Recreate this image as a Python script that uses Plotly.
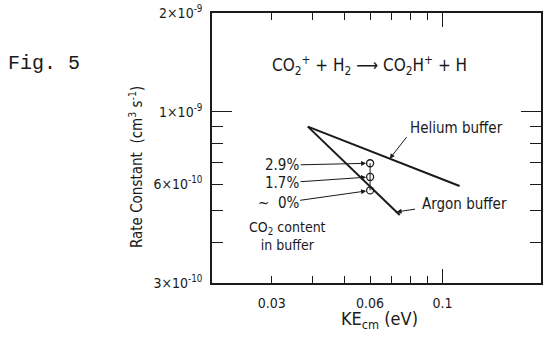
import numpy as np
import plotly.graph_objects as go

# ---- data ----
helium_x = [0.0387, 0.1127]
helium_y = [9.0e-10, 5.93e-10]
argon_x = [0.0387, 0.0739]
argon_y = [9.0e-10, 4.84e-10]
co2_labels = ["2.9%", "1.7%", "~  0%"]
co2_x = [0.06, 0.06, 0.06]
co2_y = [6.96e-10, 6.32e-10, 5.75e-10]

x_tickvals = [0.03, 0.06, 0.1, 0.2]
x_ticktext = ["0.03", "0.06", "0.1", "0.2"]
x_minor = [0.04, 0.05, 0.07, 0.08, 0.09]
y_tickvals = [3e-10, 6e-10, 1e-9, 2e-9]
y_ticktext = ["3×10<sup>-10</sup>", "6×10<sup>-10</sup>", "1×10<sup>-9</sup>", "2×10<sup>-9</sup>"]
y_minor = [4e-10, 5e-10, 7e-10, 8e-10, 9e-10]

x_range = [np.log10(0.0197), np.log10(0.2)]
y_range = [np.log10(3e-10), np.log10(2e-9)]

FONT = "Liberation Sans Narrow, DejaVu Sans Condensed, Liberation Sans, sans-serif"
INK = "#1a1a1a"


def on_line(xs, ys, xq):
    lx = np.log10(xs)
    ly = np.log10(ys)
    return float(10 ** np.interp(np.log10(xq), lx, ly))


fig = go.Figure()
fig.add_trace(go.Scatter(x=helium_x, y=helium_y, mode="lines",
                         line=dict(color=INK, width=2), showlegend=False))
fig.add_trace(go.Scatter(x=argon_x, y=argon_y, mode="lines",
                         line=dict(color=INK, width=2), showlegend=False))
fig.add_trace(go.Scatter(x=co2_x, y=co2_y, mode="lines+markers",
                         line=dict(color=INK, width=1),
                         marker=dict(symbol="circle-open", size=7, color=INK,
                                     line=dict(width=1.3, color=INK)),
                         showlegend=False))

axis_common = dict(type="log", showgrid=False, zeroline=False, showline=True,
                   linecolor=INK, linewidth=1.5, ticks="inside", mirror="ticks",
                   tickcolor=INK, tickwidth=1.2, automargin=False,
                   tickfont=dict(family=FONT, size=14, color=INK))

fig.update_layout(
    width=551, height=339,
    margin=dict(l=212, r=10, t=13, b=56, autoexpand=False),
    paper_bgcolor="white", plot_bgcolor="white",
    font=dict(family=FONT, color=INK),
    xaxis=dict(axis_common, range=x_range, tickvals=x_tickvals, ticktext=x_ticktext,
               ticklen=7, ticklabelstandoff=6,
               minor=dict(tickvals=x_minor, ticks="inside", ticklen=7,
                          tickcolor=INK, tickwidth=1.2, showgrid=False)),
    yaxis=dict(axis_common, range=y_range, tickvals=y_tickvals, ticktext=y_ticktext,
               ticklen=11, ticklabelstandoff=5,
               minor=dict(tickvals=y_minor, ticks="inside", ticklen=11,
                          tickcolor=INK, tickwidth=1.2, showgrid=False)),
    xaxis2=dict(type="log", range=x_range, overlaying="x", side="bottom",
                showgrid=False, zeroline=False, showline=False, ticks="inside",
                mirror="ticks", tickvals=[0.1], ticklen=14, tickcolor=INK,
                tickwidth=1.2, showticklabels=False, automargin=False),
    yaxis2=dict(type="log", range=y_range, overlaying="y", side="left",
                showgrid=False, zeroline=False, showline=False, ticks="inside",
                mirror="ticks", tickvals=[1e-9], ticklen=20, tickcolor=INK,
                tickwidth=1.2, showticklabels=False, automargin=False),
)
# invisible trace to activate overlay axes
fig.add_trace(go.Scatter(x=[0.1], y=[1e-9], xaxis="x2", yaxis="y2", mode="markers",
                         marker=dict(opacity=0), hoverinfo="skip", showlegend=False))

C = dict(xanchor="center", yanchor="middle", showarrow=False, xref="paper", yref="paper")
ann = []
ann.append(dict(C, text="Fig. 5", x=-0.5106, y=0.8148,
                font=dict(family="Liberation Mono, Courier New, monospace", size=20, color=INK)))
ann.append(dict(C, text="CO<sub>2</sub><sup>+</sup> + H<sub>2</sub> ⟶ CO<sub>2</sub>H<sup>+</sup> + H",
                x=0.480, y=0.807, font=dict(family=FONT, size=17, color=INK)))
ann.append(dict(C, text="Rate Constant  (cm<sup>3</sup> s<sup>-1</sup>)",
                x=-0.231, y=0.4296, textangle=-90, font=dict(family=FONT, size=15, color=INK)))
ann.append(dict(C, text="KE<sub>cm</sub> (eV)", x=0.5106, y=-0.137,
                font=dict(family=FONT, size=18, color=INK)))
ann.append(dict(C, text="CO<sub>2</sub> content<br>in buffer", x=0.231, y=0.174, align="center",
                font=dict(family=FONT, size=14, color=INK)))
ann.append(dict(C, text="Helium buffer", x=0.744, y=0.574,
                font=dict(family=FONT, size=15, color=INK)))
ann.append(dict(C, text="Argon buffer", x=0.766, y=0.292,
                font=dict(family=FONT, size=15, color=INK)))

ARW = dict(showarrow=True, arrowhead=2, arrowsize=1, arrowwidth=1, arrowcolor=INK,
           xref="x", yref="y", axref="pixel", ayref="pixel")
# CO2 content labels with arrows to points (log axes -> log10 positions)
offsets = [(-88, 2), (-88, 6), (-92, 13)]
for lab, xv, yv, (dx, dy) in zip(co2_labels, co2_x, co2_y, offsets):
    ann.append(dict(ARW, text=lab, x=np.log10(xv), y=np.log10(yv), ax=dx, ay=dy,
                    standoff=4, xanchor="center", yanchor="middle",
                    font=dict(family=FONT, size=15, color=INK)))

# arrows to lines
hx = 0.0689
ann.append(dict(ARW, text="", x=np.log10(hx), y=np.log10(on_line(helium_x, helium_y, hx)),
                ax=18, ay=-23))
axq = 0.0723
ann.append(dict(ARW, text="", x=np.log10(axq), y=np.log10(on_line(argon_x, argon_y, axq)),
                ax=20, ay=-3))
fig.update_layout(annotations=ann)

fig.write_html("out.html", config={"displayModeBar": False},
               post_script="document.body.style.margin='0';document.body.style.padding='0';")
